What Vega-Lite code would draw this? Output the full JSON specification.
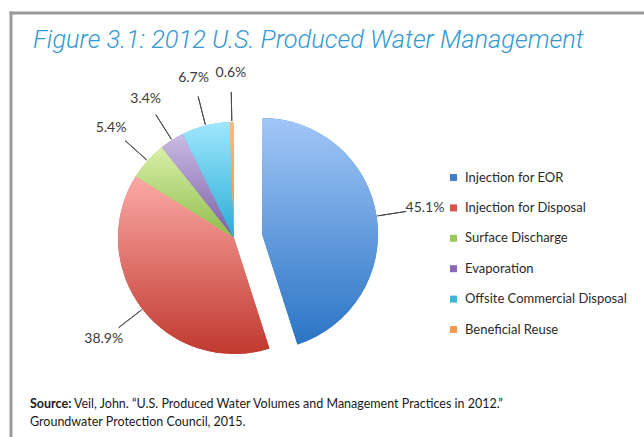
{
  "$schema": "https://vega.github.io/schema/vega-lite/v6.json",
  "width": 633,
  "height": 424,
  "autosize": {"type": "none"},
  "padding": {"left": 11, "top": 13, "right": 0, "bottom": 0},
  "background": "white",
  "config": {"view": {"stroke": null}},
  "layer": [
    {
      "data": {"values": [{}]},
      "mark": {"type": "rule", "color": "#9a9a9a", "strokeWidth": 3, "strokeCap": "square"},
      "encoding": {"x": {"value": 0}}
    },
    {
      "data": {"values": [{}]},
      "mark": {"type": "rule", "color": "#9a9a9a", "strokeWidth": 3, "strokeCap": "square"},
      "encoding": {"y": {"value": 0}}
    },
    {
      "data": {"values": [{"t": "Figure 3.1: 2012 U.S. Produced Water Management"}]},
      "mark": {"type": "text", "x": 22, "y": 35, "align": "left", "baseline": "alphabetic", "font": "Roboto", "fontStyle": "italic", "fontWeight": 300, "fontSize": 25.4, "color": "#3399d1"},
      "encoding": {"text": {"field": "t"}}
    },
    {
      "data": {"values": [{"t": "Source:"}]},
      "mark": {"type": "text", "x": 19, "y": 395, "align": "left", "baseline": "alphabetic", "font": "Lato", "fontWeight": "bold", "fontSize": 12.5, "color": "#1a1a1a"},
      "encoding": {"text": {"field": "t"}}
    },
    {
      "data": {"values": [{"t": "Veil, John. “U.S. Produced Water Volumes and Management Practices in 2012.”"}]},
      "mark": {"type": "text", "x": 63, "y": 395, "align": "left", "baseline": "alphabetic", "font": "Lato", "fontSize": 12.5, "color": "#1a1a1a"},
      "encoding": {"text": {"field": "t"}}
    },
    {
      "data": {"values": [{"t": "Groundwater Protection Council, 2015."}]},
      "mark": {"type": "text", "x": 19, "y": 413, "align": "left", "baseline": "alphabetic", "font": "Lato", "fontSize": 12.5, "color": "#1a1a1a"},
      "encoding": {"text": {"field": "t"}}
    },
    {
      "data": {
        "values": [
          {"cat": "Injection for EOR", "value": 45.1, "order": 1, "label": "45.1%"},
          {"cat": "Injection for Disposal", "value": 38.9, "order": 2, "label": "38.9%"},
          {"cat": "Surface Discharge", "value": 5.4, "order": 3, "label": "5.4%"},
          {"cat": "Evaporation", "value": 3.4, "order": 4, "label": "3.4%"},
          {"cat": "Offsite Commercial Disposal", "value": 6.7, "order": 5, "label": "6.7%"},
          {"cat": "Beneficial Reuse", "value": 0.6, "order": 6, "label": "0.6%"}
        ]
      },
      "transform": [
        {"window": [{"op": "sum", "field": "value", "as": "cum"}], "sort": [{"field": "order"}], "frame": [null, 0]},
        {"calculate": "datum.cum - datum.value", "as": "start"},
        {"calculate": "datum.cum - datum.value / 2", "as": "mid"}
      ],
      "layer": [
        {
          "mark": {"type": "arc", "outerRadius": 116, "x": 223, "y": 225,
                   "xOffset": {"expr": "datum.cat === 'Injection for EOR' ? 28 : 0"},
                   "yOffset": {"expr": "datum.cat === 'Injection for EOR' ? -4 : 0"}},
          "encoding": {
            "theta": {"field": "start", "type": "quantitative", "stack": null, "scale": {"domain": [0, 100.1], "range": [0, 6.283185]}},
            "theta2": {"field": "cum"},
            "color": {
              "field": "cat", "type": "nominal",
              "sort": ["Injection for EOR", "Injection for Disposal", "Surface Discharge", "Evaporation", "Offsite Commercial Disposal", "Beneficial Reuse"],
              "scale": {
                "domain": ["Injection for EOR", "Injection for Disposal", "Surface Discharge", "Evaporation", "Offsite Commercial Disposal", "Beneficial Reuse"],
                "range": ["#3f7fd0", "#d9534f", "#9bc658", "#8768b8", "#3cb6dc", "#f79a4e"]
              },
              "legend": {
                "title": null, "orient": "none", "legendX": 436, "legendY": 158,
                "symbolType": "square", "symbolSize": 49, "symbolStrokeWidth": 0,
                "labelFont": "Lato", "labelFontSize": 13, "labelColor": "#2a2a2a",
                "labelOffset": 5, "rowPadding": 16.4, "labelLimit": 300
              }
            }
          }
        },
        {
          "mark": {"type": "arc", "outerRadius": 116, "x": 223, "y": 225,
                   "xOffset": {"expr": "datum.cat === 'Injection for EOR' ? 28 : 0"},
                   "yOffset": {"expr": "datum.cat === 'Injection for EOR' ? -4 : 0"},
                   "fill": {"expr": "{gradient: 'linear', x1: 0, y1: 0, x2: 0, y2: 1, stops: [{offset: 0, color: datum.cat === 'Injection for EOR' ? '#a2c6f7' : datum.cat === 'Injection for Disposal' ? '#fba9a5' : datum.cat === 'Surface Discharge' ? '#d9efaa' : datum.cat === 'Evaporation' ? '#ccbbe3' : datum.cat === 'Offsite Commercial Disposal' ? '#a0e7fd' : '#fbbb85'}, {offset: 1, color: datum.cat === 'Injection for EOR' ? '#2a74c4' : datum.cat === 'Injection for Disposal' ? '#c0392f' : datum.cat === 'Surface Discharge' ? '#8fbd4a' : datum.cat === 'Evaporation' ? '#7a5da7' : datum.cat === 'Offsite Commercial Disposal' ? '#29acd6' : '#f28a3a'}]}"}},
          "encoding": {
            "theta": {"field": "start", "type": "quantitative", "stack": null},
            "theta2": {"field": "cum"}
          }
        },
        {
          "mark": {"type": "arc", "innerRadius": 117, "outerRadius": 146, "x": 223, "y": 225, "fill": null, "stroke": "#4a4a4a", "strokeWidth": 1,
                   "xOffset": {"expr": "datum.cat === 'Injection for EOR' ? 28 : 0"},
                   "yOffset": {"expr": "datum.cat === 'Injection for EOR' ? -4 : 0"}},
          "encoding": {
            "theta": {"field": "mid", "type": "quantitative", "stack": null},
            "theta2": {"field": "mid"}
          }
        },
        {
          "mark": {"type": "text", "radius": 165, "x": 223, "y": 225, "align": "center", "baseline": "middle", "font": "Lato", "fontSize": 14, "color": "#3a3a3a",
                   "xOffset": {"expr": "datum.cat === 'Injection for EOR' ? 28 : 0"},
                   "yOffset": {"expr": "datum.cat === 'Injection for EOR' ? -4 : 0"}},
          "encoding": {
            "theta": {"field": "mid", "type": "quantitative", "stack": null},
            "text": {"field": "label"}
          }
        }
      ]
    }
  ]
}
